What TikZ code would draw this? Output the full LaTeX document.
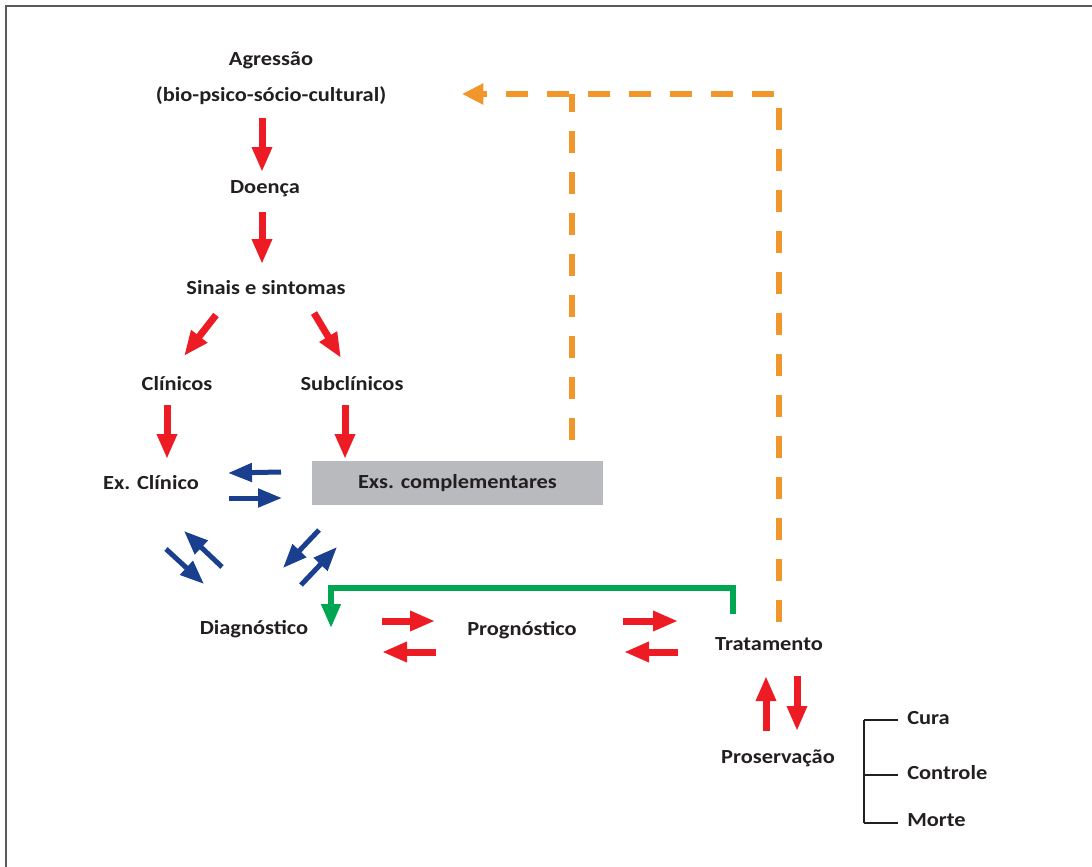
\documentclass[tikz,border=0pt]{standalone}
\usepackage{fontspec}
\setmainfont{Carlito}[FakeStretch=1.12]
\usetikzlibrary{arrows.meta}
\definecolor{txt}{HTML}{231F20}
\definecolor{ared}{HTML}{ED1C24}
\definecolor{ablue}{HTML}{1B3F8F}
\definecolor{agreen}{HTML}{00A651}
\definecolor{aorange}{HTML}{F0962A}
\definecolor{boxgray}{HTML}{B9BABD}
\definecolor{frame}{HTML}{5A5A5A}
\tikzset{
  lbl/.style={text=txt,font=\bfseries\fontsize{15}{18}\selectfont,inner sep=0pt},
  redarr/.style={draw=ared,line width=5.25pt,-{Triangle[length=18.75pt,width=14.25pt]}},
  bluearr/.style={draw=ablue,line width=3.75pt,-{Triangle[length=18pt,width=13.5pt]}},
  greenline/.style={draw=agreen,line width=4pt,-{Triangle[length=18pt,width=14pt]}},
  orangedash/.style={draw=aorange,line width=4pt,dash pattern=on 16.5pt off 14.25pt},
  bracketline/.style={draw=txt,line width=1.1pt}
}
\begin{document}
\begin{tikzpicture}[x=0.75pt,y=-0.75pt]
\useasboundingbox (0,0) rectangle (1092,867);
% frame (top and left edges)
\draw[frame,line width=1.5pt] (6,867) -- (6,6) -- (1092,6);

% labels
\node[lbl] (agr) at (271,60) {Agressão};
\node[lbl] (bio) at (271,96) {(bio-psico-sócio-cultural)};
\node[lbl] (doe) at (265,189) {Doença};
\node[lbl] (sin) at (266,288) {Sinais e sintomas};
\node[lbl] (cli) at (177,384) {Clínicos};
\node[lbl] (sub) at (352,384) {Subclínicos};
\node[lbl] (exc) at (151,483) {Ex. Clínico};
\node[lbl,fill=boxgray,minimum width=291*0.75pt,minimum height=44*0.75pt] (exs) at (457.5,483) {Exs. complementares};
\node[lbl] (dia) at (254,629) {Diagnóstico};
\node[lbl] (pro) at (522,630) {Prognóstico};
\node[lbl] (tra) at (769,644) {Tratamento};
\node[lbl] (prs) at (778,758) {Proservação};
\node[lbl,anchor=west] (cur) at (907,718) {Cura};
\node[lbl,anchor=west] (con) at (907,773) {Controle};
\node[lbl,anchor=west] (mor) at (907,820) {Morte};

% arrow coordinates
\coordinate (r1a) at (262,118); \coordinate (r1b) at (262,172);
\coordinate (r2a) at (262,212); \coordinate (r2b) at (262,264);
\coordinate (r3a) at (216,315); \coordinate (r3b) at (184,356);
\coordinate (r4a) at (314,313); \coordinate (r4b) at (341,358);
\coordinate (r5a) at (167,405); \coordinate (r5b) at (167,459);
\coordinate (r6a) at (345,405); \coordinate (r6b) at (345,459);
\coordinate (b1a) at (281,472); \coordinate (b1b) at (228,473);
\coordinate (b2a) at (229,498); \coordinate (b2b) at (282,498);
\coordinate (b3a) at (166,549); \coordinate (b3b) at (204,584);
\coordinate (b4a) at (222,567); \coordinate (b4b) at (184,531);
\coordinate (b5a) at (319,530); \coordinate (b5b) at (283,568);
\coordinate (b6a) at (301,585); \coordinate (b6b) at (337,547);
\coordinate (r7a) at (382,621); \coordinate (r7b) at (435,621);
\coordinate (r8a) at (436,652); \coordinate (r8b) at (382,652);
\coordinate (r9a) at (623,621); \coordinate (r9b) at (678,621);
\coordinate (r10a) at (678,652); \coordinate (r10b) at (624,652);
\coordinate (r11a) at (766,731); \coordinate (r11b) at (766,676);
\coordinate (r12a) at (797,676); \coordinate (r12b) at (797,731);

\draw[redarr] (r1a) -- (r1b);
\draw[redarr] (r2a) -- (r2b);
\draw[redarr] (r3a) -- (r3b);
\draw[redarr] (r4a) -- (r4b);
\draw[redarr] (r5a) -- (r5b);
\draw[redarr] (r6a) -- (r6b);
\draw[bluearr] (b1a) -- (b1b);
\draw[bluearr] (b2a) -- (b2b);
\draw[bluearr] (b3a) -- (b3b);
\draw[bluearr] (b4a) -- (b4b);
\draw[bluearr] (b5a) -- (b5b);
\draw[bluearr] (b6a) -- (b6b);
\draw[redarr] (r7a) -- (r7b);
\draw[redarr] (r8a) -- (r8b);
\draw[redarr] (r9a) -- (r9b);
\draw[redarr] (r10a) -- (r10b);
\draw[redarr] (r11a) -- (r11b);
\draw[redarr] (r12a) -- (r12b);

% green feedback
\coordinate (g1) at (733,614);
\coordinate (g2) at (331,628);
\draw[greenline] (g1) -- (733,588) -| (g2);

% orange dashed feedback
\coordinate (o1) at (572,440);
\coordinate (o2) at (779,622);
\coordinate (o3) at (462,94);
\draw[orangedash] (o1) -- (572,94);
\draw[orangedash,-{Triangle[length=16pt,width=15pt]}] (o2) -- (779,94) -- (o3);

% bracket
\coordinate (k1) at (864,720);
\coordinate (k2) at (864,775);
\coordinate (k3) at (864,823);
\draw[bracketline] (k1) -- (k3);
\draw[bracketline] (k1) -- (898,720);
\draw[bracketline] (k2) -- (898,775);
\draw[bracketline] (k3) -- (898,823);
\end{tikzpicture}
\end{document}
